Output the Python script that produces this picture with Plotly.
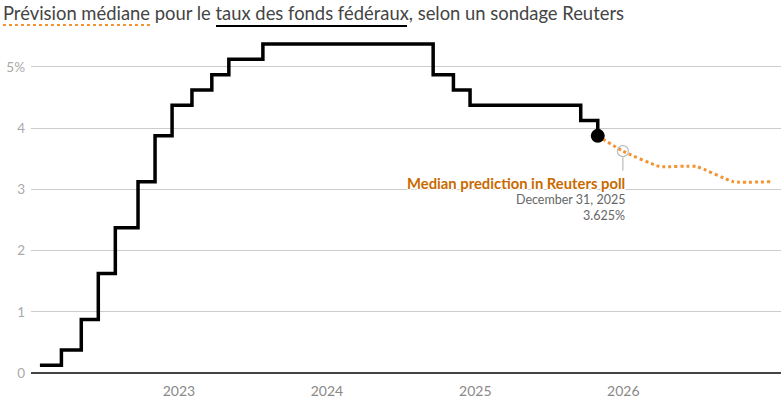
import plotly.graph_objects as go

# Fed funds rate (midpoint of target range), step changes
fed_dates = ["2022-01-23", "2022-03-17", "2022-05-05", "2022-06-16", "2022-07-28",
             "2022-09-22", "2022-11-03", "2022-12-15", "2023-02-02", "2023-03-23",
             "2023-05-04", "2023-07-27", "2024-09-19", "2024-11-08", "2024-12-19",
             "2025-09-18", "2025-10-30"]
fed_values = [0.125, 0.375, 0.875, 1.625, 2.375, 3.125, 3.875, 4.375, 4.625, 4.875,
              5.125, 5.375, 4.875, 4.625, 4.375, 4.125, 3.875]

# Median prediction in Reuters poll
poll_dates = ["2025-10-30", "2025-12-31", "2026-03-31", "2026-06-30", "2026-09-30", "2026-12-31"]
poll_values = [3.875, 3.625, 3.375, 3.375, 3.125, 3.125]

highlight_date = "2025-12-31"
highlight_value = 3.625

y_tickvals = [0, 1, 2, 3, 4, 5]
y_ticktext = ["0", "1", "2", "3", "4", "5%"]
x_tickvals = ["2023-01-01", "2024-01-01", "2025-01-01", "2026-01-01"]
x_ticktext = ["2023", "2024", "2025", "2026"]

FONT = "Lato"
W, H = 784, 399
ML, MR, MT, MB = 31, 3, 40, 26
PW, PH = W - ML - MR, H - MT - MB

def px_x(p):
    return (p - ML) / PW

def px_y(p):
    return (H - MB - p) / PH

fig = go.Figure()

fig.add_trace(go.Scatter(
    x=poll_dates, y=poll_values, mode="lines",
    line=dict(color="#f39332", width=3, dash="dot", shape="spline", smoothing=0.4),
    hoverinfo="skip", showlegend=False))

fig.add_trace(go.Scatter(
    x=fed_dates, y=fed_values, mode="lines",
    line=dict(color="#000000", width=3.5, shape="hv"),
    hoverinfo="skip", showlegend=False))

fig.add_trace(go.Scatter(
    x=[fed_dates[-1]], y=[fed_values[-1]], mode="markers",
    marker=dict(color="#000000", size=14),
    hoverinfo="skip", showlegend=False))

fig.add_trace(go.Scatter(
    x=[highlight_date], y=[highlight_value], mode="markers",
    marker=dict(symbol="circle-open", color="#bbbbbb", size=11, line=dict(width=1.2)),
    hoverinfo="skip", showlegend=False))

# leader line below the highlighted point
fig.add_shape(type="line", xref="x", yref="y",
              x0=highlight_date, x1=highlight_date, y0=highlight_value - 0.1, y1=highlight_value - 0.32,
              line=dict(color="#bbbbbb", width=1.2), layer="above")

halo = "1px 1px 0 #fff, -1px -1px 0 #fff, 1px -1px 0 #fff, -1px 1px 0 #fff, 0 2px 0 #fff"
fig.add_annotation(x=highlight_date, y=highlight_value, xref="x", yref="y",
                   text="<b>Median prediction in Reuters poll</b>", showarrow=False,
                   xanchor="right", yanchor="middle", xshift=4, yshift=-32,
                   font=dict(family=FONT, size=14.8, color="#c96a00", shadow=halo))
fig.add_annotation(x=highlight_date, y=highlight_value, xref="x", yref="y",
                   text="December 31, 2025", showarrow=False,
                   xanchor="right", yanchor="middle", xshift=4, yshift=-48,
                   font=dict(family=FONT, size=12.5, color="#666666", shadow=halo))
fig.add_annotation(x=highlight_date, y=highlight_value, xref="x", yref="y",
                   text="3.625%", showarrow=False,
                   xanchor="right", yanchor="middle", xshift=4, yshift=-64,
                   font=dict(family=FONT, size=12.5, color="#666666", shadow=halo))

# title underlines
fig.add_shape(type="line", xref="paper", yref="paper",
              x0=px_x(3), x1=px_x(151), y0=px_y(25), y1=px_y(25),
              line=dict(color="#f39332", width=2, dash="dot"))
fig.add_shape(type="line", xref="paper", yref="paper",
              x0=px_x(216), x1=px_x(407), y0=px_y(26), y1=px_y(26),
              line=dict(color="#000000", width=2))

fig.update_layout(
    width=W, height=H,
    margin=dict(l=ML, r=MR, t=MT, b=MB, autoexpand=False),
    paper_bgcolor="#ffffff", plot_bgcolor="#ffffff",
    font=dict(family=FONT),
    title=dict(text="Prévision médiane pour le taux des fonds fédéraux, selon un sondage Reuters",
               x=3 / W, xanchor="left", xref="container",
               y=1 - 14 / H, yanchor="middle", yref="container",
               font=dict(family=FONT, size=18.4, color="#444444")),
    xaxis=dict(range=["2022-01-01", "2027-01-25"], tickvals=x_tickvals, ticktext=x_ticktext,
               showgrid=False, zeroline=False, showline=False, ticks="",
               ticklabelstandoff=8, automargin=False,
               tickfont=dict(family=FONT, size=14, color="#888888")),
    yaxis=dict(range=[0, 5.441], tickvals=y_tickvals, ticktext=y_ticktext,
               showgrid=True, gridcolor="#cccccc", gridwidth=1,
               zeroline=True, zerolinecolor="#444444", zerolinewidth=1.5,
               showline=False, ticks="", ticklabelstandoff=5, automargin=False,
               tickfont=dict(family=FONT, size=13.5, color="#aaaaaa")),
)

fig.write_html("out.html", config={"displayModeBar": False},
               post_script="document.body.style.margin='0';")
